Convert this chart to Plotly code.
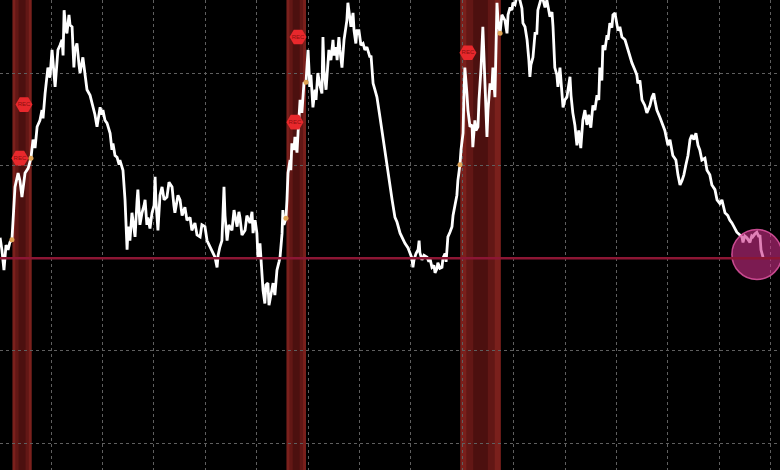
import plotly.graph_objects as go

# ---- Data: US 10y-2y Treasury spread (percentage points), decimal years ----
years = [
    1990.02, 1990.09, 1990.17, 1990.25, 1990.33, 1990.40, 1990.48, 1990.60, 1990.72, 1990.79,
    1990.87, 1990.99, 1991.11, 1991.22, 1991.30, 1991.38, 1991.46, 1991.57, 1991.65, 1991.69,
    1991.77, 1991.84, 1991.88, 1991.96, 1992.04, 1992.16, 1992.23, 1992.27, 1992.35, 1992.43,
    1992.47, 1992.51, 1992.58, 1992.62, 1992.70, 1992.74, 1992.82, 1992.89, 1992.93, 1993.01,
    1993.09, 1993.13, 1993.24, 1993.32, 1993.40, 1993.52, 1993.59, 1993.71, 1993.79, 1993.91,
    1993.98, 1994.02, 1994.10, 1994.18, 1994.30, 1994.37, 1994.41, 1994.49, 1994.57, 1994.65,
    1994.68, 1994.80, 1994.88, 1994.96, 1995.00, 1995.07, 1995.15, 1995.23, 1995.27, 1995.35,
    1995.38, 1995.46, 1995.54, 1995.62, 1995.66, 1995.73, 1995.77, 1995.85, 1995.93, 1996.01,
    1996.05, 1996.08, 1996.16, 1996.24, 1996.32, 1996.40, 1996.51, 1996.59, 1996.71, 1996.78,
    1996.82, 1996.94, 1997.02, 1997.10, 1997.21, 1997.29, 1997.41, 1997.48, 1997.60, 1997.68,
    1997.80, 1997.87, 1997.99, 1998.07, 1998.19, 1998.26, 1998.38, 1998.46, 1998.50, 1998.57,
    1998.65, 1998.73, 1998.77, 1998.85, 1998.92, 1999.04, 1999.12, 1999.24, 1999.31, 1999.35,
    1999.43, 1999.55, 1999.62, 1999.74, 1999.82, 1999.86, 1999.94, 2000.01, 2000.05, 2000.13,
    2000.17, 2000.25, 2000.32, 2000.36, 2000.44, 2000.48, 2000.52, 2000.60, 2000.64, 2000.71,
    2000.79, 2000.87, 2000.91, 2000.99, 2001.02, 2001.06, 2001.14, 2001.18, 2001.22, 2001.30,
    2001.33, 2001.37, 2001.45, 2001.49, 2001.57, 2001.61, 2001.69, 2001.76, 2001.84, 2001.92,
    2001.96, 2002.00, 2002.07, 2002.11, 2002.19, 2002.27, 2002.31, 2002.38, 2002.46, 2002.54,
    2002.58, 2002.62, 2002.70, 2002.77, 2002.81, 2002.89, 2002.97, 2003.01, 2003.09, 2003.13,
    2003.20, 2003.24, 2003.32, 2003.40, 2003.48, 2003.51, 2003.55, 2003.63, 2003.67, 2003.75,
    2003.79, 2003.86, 2003.90, 2003.98, 2004.06, 2004.14, 2004.21, 2004.29, 2004.41, 2004.45,
    2004.53, 2004.60, 2004.68, 2004.80, 2004.84, 2004.92, 2004.99, 2005.07, 2005.11, 2005.19,
    2005.27, 2005.38, 2005.46, 2005.58, 2005.65, 2005.77, 2005.89, 2005.97, 2006.04, 2006.08,
    2006.12, 2006.20, 2006.28, 2006.32, 2006.35, 2006.43, 2006.51, 2006.63, 2006.70, 2006.74,
    2006.82, 2006.90, 2006.94, 2007.02, 2007.05, 2007.13, 2007.21, 2007.25, 2007.33, 2007.37,
    2007.44, 2007.52, 2007.60, 2007.64, 2007.71, 2007.79, 2007.83, 2007.91, 2007.95, 2008.03,
    2008.06, 2008.10, 2008.18, 2008.22, 2008.30, 2008.38, 2008.41, 2008.49, 2008.53, 2008.61,
    2008.65, 2008.73, 2008.80, 2008.84, 2008.88, 2008.96, 2009.00, 2009.08, 2009.15, 2009.19,
    2009.27, 2009.31, 2009.35, 2009.39, 2009.43, 2009.47, 2009.54, 2009.58, 2009.66, 2009.74,
    2009.78, 2009.86, 2009.93, 2009.97, 2010.05, 2010.13, 2010.24, 2010.32, 2010.36, 2010.44,
    2010.52, 2010.59, 2010.63, 2010.67, 2010.75, 2010.83, 2010.90, 2010.94, 2011.02, 2011.10,
    2011.22, 2011.29, 2011.41, 2011.49, 2011.53, 2011.60, 2011.68, 2011.72, 2011.80, 2011.88,
    2011.92, 2011.99, 2012.07, 2012.19, 2012.23, 2012.30, 2012.38, 2012.46, 2012.53, 2012.61,
    2012.69, 2012.77, 2012.85, 2012.92, 2013.00, 2013.08, 2013.16, 2013.24, 2013.31, 2013.35,
    2013.43, 2013.47, 2013.55, 2013.63, 2013.67, 2013.74, 2013.82, 2013.86, 2013.94, 2014.02,
    2014.06, 2014.13, 2014.21, 2014.33, 2014.41, 2014.52, 2014.60, 2014.72, 2014.79, 2014.83,
    2014.91, 2014.99, 2015.10, 2015.18, 2015.30, 2015.38, 2015.45, 2015.49, 2015.57, 2015.69,
    2015.80, 2015.88, 2016.00, 2016.08, 2016.19, 2016.31, 2016.39, 2016.47, 2016.55, 2016.62,
    2016.70, 2016.78, 2016.86, 2016.93, 2017.01, 2017.09, 2017.17, 2017.24, 2017.32, 2017.44,
    2017.52, 2017.63, 2017.71, 2017.83, 2017.91, 2018.02, 2018.10, 2018.22, 2018.33, 2018.41,
    2018.49, 2018.61, 2018.68, 2018.80, 2018.88, 2018.92, 2018.99, 2019.07, 2019.19, 2019.26,
    2019.30, 2019.38, 2019.46, 2019.54, 2019.58, 2019.62, 2019.70,
]
spread = [
    0.22, 0.09, -0.13, 0.14, 0.09, 0.17, 0.20, 0.77, 0.92, 0.84,
    0.66, 0.92, 0.97, 1.08, 1.28, 1.19, 1.42, 1.49, 1.60, 1.51,
    1.78, 1.98, 2.06, 1.95, 2.25, 1.85, 2.14, 2.25, 2.30, 2.36,
    2.19, 2.68, 2.46, 2.43, 2.63, 2.52, 2.50, 2.06, 2.25, 2.32,
    2.09, 2.00, 2.17, 1.98, 1.82, 1.76, 1.68, 1.55, 1.42, 1.63,
    1.55, 1.60, 1.49, 1.46, 1.35, 1.17, 1.24, 1.11, 1.09, 1.01,
    1.06, 0.95, 0.63, 0.09, 0.34, 0.19, 0.49, 0.30, 0.23, 0.63,
    0.74, 0.36, 0.49, 0.57, 0.63, 0.36, 0.44, 0.32, 0.49, 0.57,
    0.88, 0.63, 0.30, 0.68, 0.77, 0.63, 0.66, 0.82, 0.77, 0.57,
    0.49, 0.68, 0.63, 0.46, 0.55, 0.41, 0.44, 0.30, 0.38, 0.25,
    0.23, 0.36, 0.34, 0.19, 0.12, 0.09, 0.01, -0.10, 0.03, 0.12,
    0.19, 0.77, 0.46, 0.19, 0.36, 0.30, 0.52, 0.34, 0.50, 0.44,
    0.25, 0.30, 0.46, 0.38, 0.50, 0.27, 0.41, 0.27, 0.01, 0.16,
    -0.05, -0.35, -0.49, -0.29, -0.27, -0.51, -0.45, -0.35, -0.27, -0.40,
    -0.13, -0.04, 0.01, 0.27, 0.52, 0.36, 0.43, 0.63, 0.92, 1.06,
    0.95, 1.24, 1.17, 1.31, 1.14, 1.35, 1.71, 1.57, 1.89, 1.90,
    2.11, 2.25, 1.85, 1.98, 1.63, 1.82, 1.71, 2.00, 1.87, 1.78,
    2.39, 2.03, 1.82, 2.09, 2.25, 2.14, 2.36, 2.19, 2.28, 2.14,
    2.39, 2.25, 2.06, 2.36, 2.52, 2.57, 2.76, 2.57, 2.50, 2.65,
    2.46, 2.32, 2.46, 2.46, 2.30, 2.32, 2.25, 2.28, 2.17, 2.19,
    1.89, 1.82, 1.74, 1.52, 1.44, 1.28, 1.17, 0.98, 0.90, 0.74,
    0.63, 0.44, 0.39, 0.27, 0.23, 0.16, 0.11, 0.05, 0.00, -0.10,
    -0.02, 0.05, 0.09, 0.19, 0.06, -0.02, 0.03, 0.01, -0.04, 0.00,
    -0.10, -0.08, -0.16, -0.11, -0.05, -0.11, -0.10, 0.00, 0.05, -0.04,
    0.23, 0.28, 0.34, 0.46, 0.55, 0.68, 0.84, 1.01, 1.17, 1.35,
    1.71, 2.06, 1.78, 1.60, 1.42, 1.44, 1.20, 1.49, 1.38, 1.42,
    1.71, 2.06, 2.50, 2.14, 1.78, 1.31, 1.60, 1.89, 1.82, 2.06,
    1.74, 2.25, 2.76, 2.57, 2.46, 2.43, 2.63, 2.61, 2.57, 2.43,
    2.63, 2.71, 2.68, 2.76, 2.74, 2.84, 2.79, 2.70, 2.54, 2.50,
    2.36, 2.14, 1.96, 2.09, 2.17, 2.43, 2.43, 2.68, 2.76, 2.84,
    2.71, 2.79, 2.61, 2.66, 2.50, 2.06, 1.98, 1.85, 2.06, 1.82,
    1.63, 1.71, 1.74, 1.96, 1.76, 1.57, 1.44, 1.22, 1.38, 1.19,
    1.49, 1.60, 1.44, 1.55, 1.41, 1.65, 1.60, 1.76, 1.71, 2.06,
    1.92, 2.30, 2.25, 2.41, 2.36, 2.54, 2.49, 2.63, 2.65, 2.52,
    2.46, 2.50, 2.39, 2.36, 2.28, 2.19, 2.11, 2.03, 1.98, 1.89,
    1.92, 1.71, 1.65, 1.57, 1.65, 1.74, 1.78, 1.71, 1.60, 1.52,
    1.44, 1.38, 1.22, 1.28, 1.11, 1.06, 0.90, 0.79, 0.84, 0.90,
    1.01, 1.11, 1.28, 1.33, 1.28, 1.35, 1.22, 1.17, 1.06, 1.08,
    0.95, 0.90, 0.79, 0.74, 0.63, 0.59, 0.63, 0.49, 0.46, 0.41,
    0.38, 0.32, 0.28, 0.25, 0.23, 0.17, 0.24, 0.22, 0.17, 0.24,
    0.23, 0.26, 0.28, 0.23, 0.25, 0.09, 0.01,
]

# NBER recessions (decimal years)
rec_start = [1990.50, 2001.16, 2007.92]
rec_end = [1991.25, 2001.92, 2009.50]

# Markers at recession start / end on the series
dot_years = [1990.48, 1991.22, 2001.14, 2001.92, 2007.91, 2009.47]
dot_values = [0.20, 1.08, 0.43, 1.90, 1.01, 2.43]

# "REC" tags
tag_years = [1990.95, 1990.79, 2001.61, 2001.49, 2008.22]
tag_values = [1.66, 1.08, 2.39, 1.47, 2.22]

# Highlight of latest reading
hl_year = [2019.46]
hl_value = [0.04]

x_range = [1990.016, 2020.36]
y_range = [-2.29, 2.79]

fig = go.Figure()

# recession bands with darker centre
shapes = []
for s, e in zip(rec_start, rec_end):
    w = e - s
    for frac, col in [(0.0, "rgb(122,32,28)"), (0.15, "rgb(98,23,21)"), (0.32, "rgb(76,16,15)")]:
        shapes.append(dict(type="rect", xref="x", yref="paper",
                           x0=s + w * frac, x1=e - w * frac, y0=0, y1=1,
                           fillcolor=col, line=dict(width=0), layer="below"))
# zero line
shapes.append(dict(type="line", xref="paper", yref="y", x0=0, x1=1, y0=0, y1=0,
                   line=dict(color="rgb(140,22,52)", width=2.5), layer="above"))

fig.add_trace(go.Scatter(x=years, y=spread, mode="lines",
                         line=dict(color="white", width=2.8), hoverinfo="skip"))

fig.add_trace(go.Scatter(x=dot_years, y=dot_values, mode="markers",
                         marker=dict(color="rgb(225,165,85)", size=5), hoverinfo="skip"))

fig.add_trace(go.Scatter(x=tag_years, y=tag_values, mode="markers+text",
                         text=["REC"] * len(tag_years), textposition="middle center",
                         textfont=dict(color="rgb(140,15,15)", size=6, family="Liberation Sans"),
                         marker=dict(symbol="hexagon2", size=17, color="rgb(232,40,44)",
                                     line=dict(width=0)),
                         hoverinfo="skip"))

fig.add_trace(go.Scatter(x=hl_year, y=hl_value, mode="markers",
                         marker=dict(symbol="circle", size=50,
                                     color="rgba(205,45,135,0.6)",
                                     line=dict(color="rgba(235,90,170,0.8)", width=1.5)),
                         hoverinfo="skip"))

fig.update_layout(
    width=780, height=470, autosize=False,
    margin=dict(l=0, r=0, t=0, b=0),
    paper_bgcolor="black", plot_bgcolor="black",
    showlegend=False, shapes=shapes,
    xaxis=dict(range=x_range, tick0=1992, dtick=2, showgrid=True,
               gridcolor="rgb(95,95,95)", griddash="dot", gridwidth=1,
               showticklabels=False, zeroline=False, showline=False, ticks=""),
    yaxis=dict(range=y_range, tick0=0, dtick=1, showgrid=True,
               gridcolor="rgb(95,95,95)", griddash="dot", gridwidth=1,
               showticklabels=False, zeroline=False, showline=False, ticks=""),
)

fig.write_html("out.html", config={"displayModeBar": False},
               post_script="document.body.style.margin='0';")
